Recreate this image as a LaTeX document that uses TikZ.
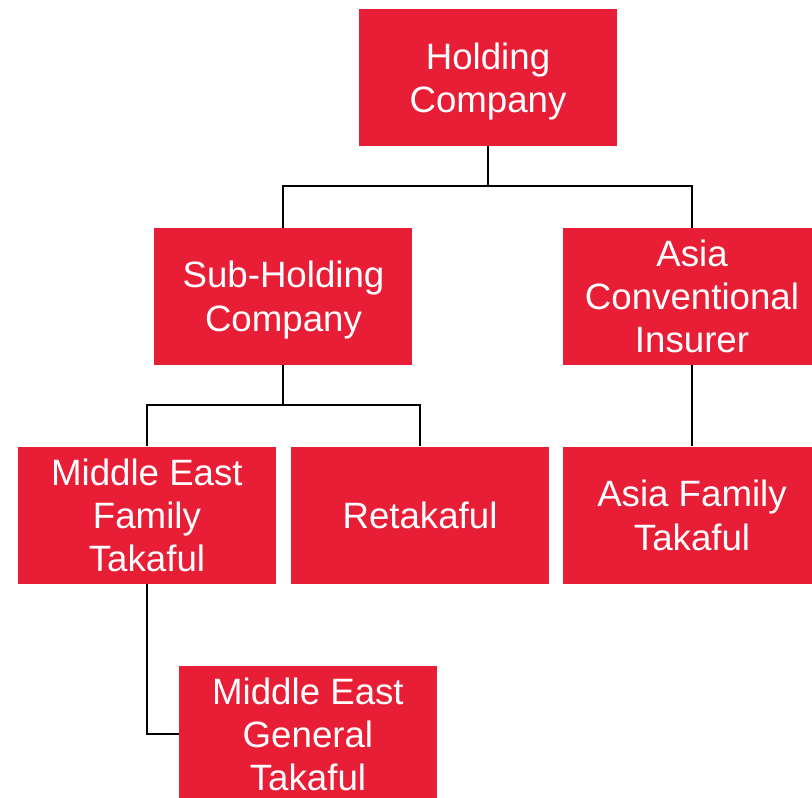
\documentclass[tikz,border=0pt]{standalone}
\usepackage{fontspec}
\setmainfont{Liberation Sans}
\usetikzlibrary{positioning}
\definecolor{boxred}{RGB}{232,29,54}

\begin{document}
\begin{tikzpicture}
        \tikzset{UnitStyle/.style={shape=rectangle, fill=boxred, text=white,
            minimum width=193.5pt, minimum height=102.75pt, inner sep=0pt,
            text depth=0pt, align=center, font=\fontsize{27.5}{32.5}\selectfont}}
        \tikzset{LinkStyle/.style={draw=black, line width=1.5pt}}
        \tikzset{node distance=61pt}

        \useasboundingbox (0,0) rectangle (609pt,-597.75pt);

        \node[UnitStyle] (hold) at (366pt,-58.125pt) {Holding\\Company};

        \node[UnitStyle, below=of hold, xshift=-153.4pt] (subhold) {Sub-Holding\\Company};
        \node[UnitStyle, below=of hold, xshift=153pt] (asiaconv) {Asia\\Conventional\\Insurer};

        \node[UnitStyle, below=of subhold, xshift=-102.4pt] (mefam) {Middle East\\Family\\Takaful};
        \node[UnitStyle, below=of subhold, xshift=102.4pt] (retak) {Retakaful};
        \node[UnitStyle, below=of asiaconv] (asiafam) {Asia Family\\Takaful};

        \node[UnitStyle, below=of mefam, xshift=120.75pt] (megen) {Middle East\\General\\Takaful};

        \draw[LinkStyle] (hold.south) -- ++(0,-30pt) coordinate (busa);
        \draw[LinkStyle] (busa) -| (subhold.north);
        \draw[LinkStyle] (busa) -| (asiaconv.north);

        \draw[LinkStyle] (subhold.south) -- ++(0,-30pt) coordinate (busb);
        \draw[LinkStyle] (busb) -| (mefam.north);
        \draw[LinkStyle] (busb) -| (retak.north);

        \draw[LinkStyle] (asiaconv) -- (asiafam);
        \draw[LinkStyle] (mefam.south) |- (megen.west);
      \end{tikzpicture}
\end{document}
